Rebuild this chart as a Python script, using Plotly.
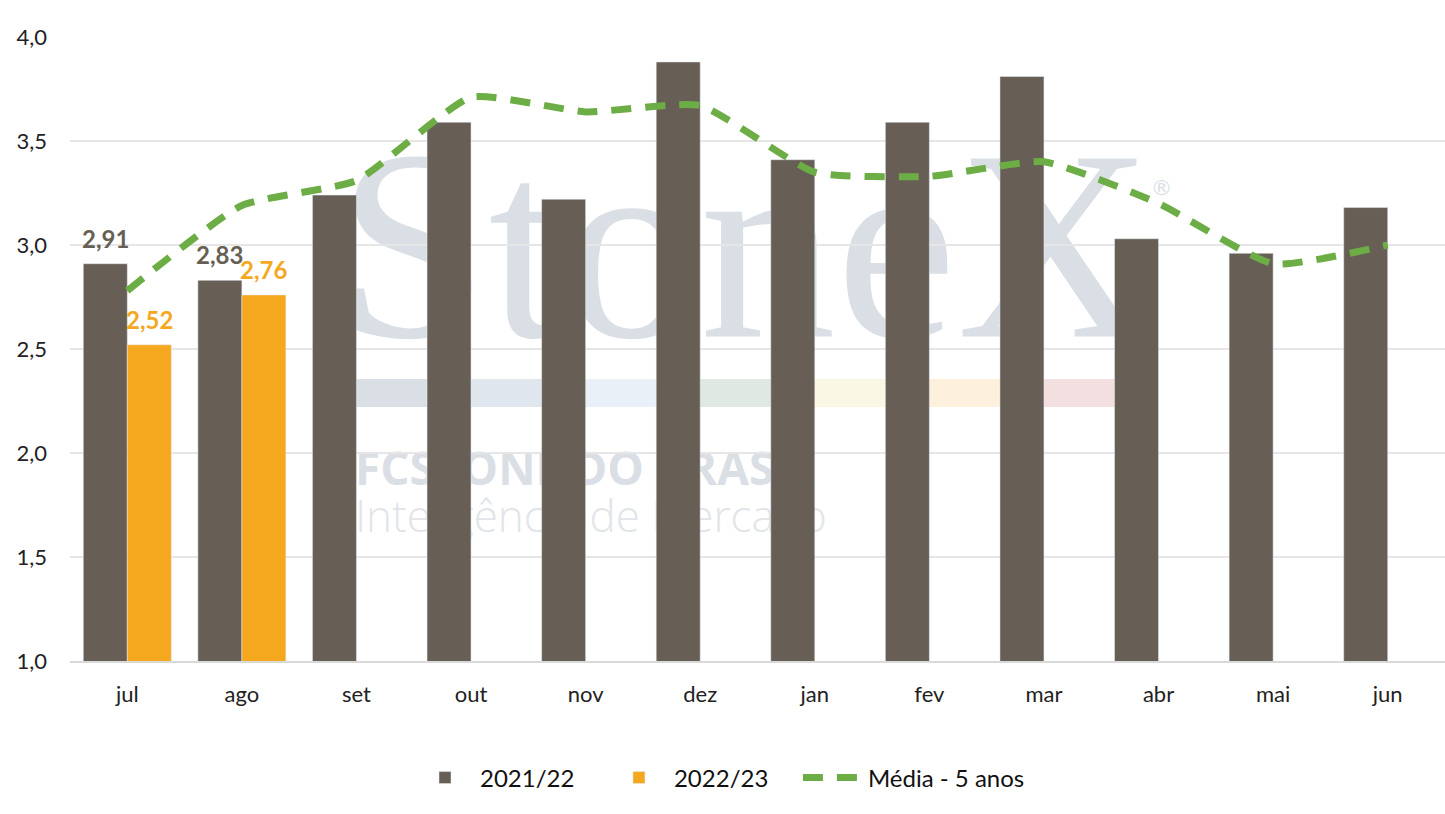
import plotly.graph_objects as go

months = ["jul", "ago", "set", "out", "nov", "dez", "jan", "fev", "mar", "abr", "mai", "jun"]
s2021_22 = [2.91, 2.83, 3.24, 3.59, 3.22, 3.88, 3.41, 3.59, 3.81, 3.03, 2.96, 3.18]
s2022_23 = [2.52, 2.76, None, None, None, None, None, None, None, None, None, None]
media_5anos = [2.78, 3.19, 3.31, 3.71, 3.64, 3.67, 3.35, 3.33, 3.40, 3.20, 2.91, 3.00]
labeled_months = ["jul", "ago"]
y_ticks = [1.0, 1.5, 2.0, 2.5, 3.0, 3.5, 4.0]

GRAY = "#675F55"
ORANGE = "#F5A81E"
GREEN = "#6DAD45"
FONT = "Lato"
NB = "\u00a0"

fig = go.Figure()
fig.add_trace(go.Bar(x=months, y=s2021_22, name="2021/22" + NB * 4, marker_color=GRAY))
fig.add_trace(go.Bar(x=months, y=s2022_23, name="2022/23" + NB * 4, marker_color=ORANGE))
fig.add_trace(go.Scatter(x=months, y=media_5anos, name="Média - 5 anos", mode="lines",
                         line=dict(color=GREEN, width=7, dash="20px,14px", shape="spline", smoothing=0.5)))

def fmt(v):
    return f"{v:.2f}".replace(".", ",")

annotations = []
for m, v1, v2 in zip(months, s2021_22, s2022_23):
    if m in labeled_months:
        annotations.append(dict(x=m, y=v1, text=f"<b>{fmt(v1)}</b>", showarrow=False, xref="x", yref="y",
                                xshift=-22, yshift=9, yanchor="bottom",
                                font=dict(family=FONT, size=24, color=GRAY)))
        if v2 is not None:
            annotations.append(dict(x=m, y=v2, text=f"<b>{fmt(v2)}</b>", showarrow=False, xref="x", yref="y",
                                    xshift=22, yshift=9, yanchor="bottom",
                                    font=dict(family=FONT, size=24, color=ORANGE)))

# Watermark (StoneX logo) drawn beneath the chart
W, H, L, T, B = 1445, 814, 70, 37, 153
pw, ph = W - L, H - T - B
def px(x):
    return (x - L) / pw
def py(y):
    return (H - B - y) / ph

shapes = []
shapes.append(dict(type="rect", xref="paper", yref="paper", layer="below",
                   x0=px(340), x1=px(1150), y0=py(325), y1=py(105), line=dict(width=0),
                   label=dict(text="StoneX", textposition="middle center",
                              font=dict(family="Liberation Serif", size=272, color="#DADFE6"))))
shapes.append(dict(type="rect", xref="paper", yref="paper", layer="below",
                   x0=px(1148), x1=px(1175), y0=py(198), y1=py(172), line=dict(width=0),
                   label=dict(text="®", textposition="middle center",
                              font=dict(family="DejaVu Sans", size=22, color="#DADFE6"))))
strip_colors = ["#DADFE5", "#E0E6EE", "#E9F0F8", "#DFE8E2", "#FAF7E4", "#FDF0DC", "#F4DFE0"]
x_start, x_end = 355, 1117
seg = (x_end - x_start) / len(strip_colors)
for i, c in enumerate(strip_colors):
    shapes.append(dict(type="rect", xref="paper", yref="paper", layer="below",
                       x0=px(x_start + i * seg), x1=px(x_start + (i + 1) * seg),
                       y0=py(407), y1=py(379), line=dict(width=0), fillcolor=c))
shapes.append(dict(type="rect", xref="paper", yref="paper", layer="below",
                   x0=px(352), x1=px(840), y0=py(490), y1=py(450), line=dict(width=0),
                   label=dict(text="<b>FCSTONE DO BRASIL</b>", textposition="middle left",
                              padding=0, font=dict(family="Open Sans", size=46, color="#DADFE5"))))
shapes.append(dict(type="rect", xref="paper", yref="paper", layer="below",
                   x0=px(352), x1=px(850), y0=py(540), y1=py(495), line=dict(width=0),
                   label=dict(text="Inteligência de Mercado", textposition="middle left",
                              padding=0, font=dict(family="Open Sans", size=44, weight=300, color="#E1E5EA"))))

fig.update_layout(
    width=W, height=H,
    margin=dict(l=L, r=0, t=T, b=B, pad=0),
    paper_bgcolor="white", plot_bgcolor="rgba(0,0,0,0)",
    barmode="group", bargap=0.232, bargroupgap=0,
    separators=",.",
    font=dict(family=FONT, size=22, color="#222222"),
    showlegend=True,
    legend=dict(orientation="h", x=(720 - L) / pw, xanchor="center", y=py(778), yanchor="middle",
                font=dict(family=FONT, size=24, color="#111111"), traceorder="normal",
                itemwidth=60),
    annotations=annotations,
    shapes=shapes,
)
fig.update_xaxes(showgrid=False, showline=True, linecolor="#D9D9D9", linewidth=2,
                 ticks="", tickfont=dict(family=FONT, size=22, color="#222222"), ticklabelstandoff=13)
fig.update_yaxes(range=[1.0, 4.0], tickvals=y_ticks, tickformat=".1f", showgrid=True,
                 gridcolor="#E6E6E6", gridwidth=2, zeroline=False, showline=False,
                 ticks="", tickfont=dict(family=FONT, size=22, color="#222222"), ticklabelstandoff=22)

fig.write_html("out.html")
